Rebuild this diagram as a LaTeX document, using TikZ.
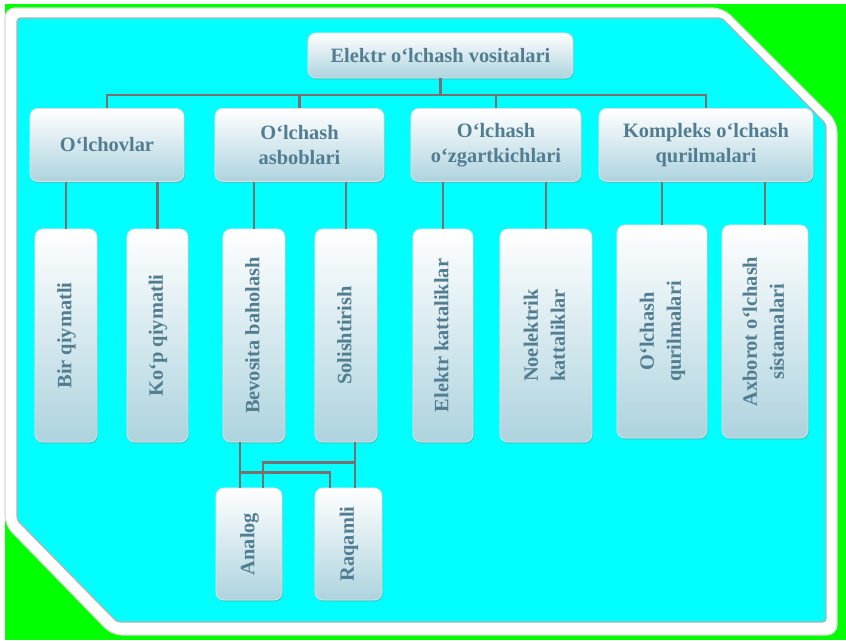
\documentclass[tikz,border=0pt]{standalone}
\usepackage{fontspec}
\setmainfont{Liberation Serif}
\usepackage{xcolor}
\usepackage{graphicx}
\usepackage{tikz}
\usetikzlibrary{shadows}

\definecolor{scrgreen}{HTML}{00FF00}
\definecolor{panelcyan}{HTML}{00FFFF}
\definecolor{boxbottom}{HTML}{ADD3DE}
\definecolor{boxtext}{HTML}{527D91}
\definecolor{wirecol}{HTML}{7A6E6E}

\newcommand{\vlabel}[1]{\rotatebox{90}{\renewcommand{\arraystretch}{1.1}\begin{tabular}{@{}c@{}}#1\end{tabular}}}

\begin{document}
\begin{tikzpicture}[x=0.025cm, y=-0.025cm,
    box/.style={rounded corners=0.2cm, draw=white!75!gray, line width=0.6pt,
      top color=white, bottom color=boxbottom, text=boxtext,
      font=\fontsize{14.5}{17.5}\selectfont\bfseries, align=center, inner sep=2pt,
      drop shadow={opacity=0.35, shadow xshift=0.7pt, shadow yshift=-1.2pt}},
    rootbox/.style={box, minimum width=6.625cm, minimum height=1.125cm},
    groupbox/.style={box, minimum height=1.825cm},
    leafbox/.style={box, minimum height=5.325cm},
    kindbox/.style={box, minimum height=2.8cm},
    wire/.style={draw=wirecol, line width=1.5pt}]

  \useasboundingbox (0,0) rectangle (846,640);
  \fill[white] (0,0) rectangle (846,640);
  \fill[scrgreen] (5,4) rectangle (846,640);
  \filldraw[fill=white, draw=gray!30, line width=0.8pt, rounded corners=0.25cm]
    (5,8) -- (723,8) -- (837,122) -- (837,635) -- (112,635) -- (5,525) -- cycle;
  \filldraw[fill=panelcyan, draw=gray!60, line width=0.8pt, rounded corners=0.08cm]
    (17,18) -- (722,18) -- (826,124) -- (826,622) -- (117,622) -- (17,520) -- cycle;

  \node[rootbox] (root) at (440.5,55.5) {Elektr o‘lchash vositalari};

  \foreach \n/\x/\w/\t in {olch/107/3.85/O‘lchovlar, asbob/299.5/4.225/O‘lchash\\asboblari,
      ozgar/496/4.25/O‘lchash\\o‘zgartkichlari, kompl/706/5.35/Kompleks o‘lchash\\qurilmalari} {
    \node[groupbox, minimum width=\w cm] (\n) at (\x,145) {\t};
  }

  \foreach \n/\x/\y/\w/\t in {bir/66/335.5/1.55/Bir qiymatli, kop/157.5/335.5/1.525/Ko‘p qiymatli,
      bev/254/335.5/1.55/Bevosita baholash, sol/346/335.5/1.55/Solishtirish,
      ekat/443/335.5/1.5/Elektr kattaliklar, nekat/546/335.5/2.3/Noelektrik\\kattaliklar,
      oqur/662/331.5/2.25/O‘lchash\\qurilmalari, axb/765/331.5/2.15/Axborot o‘lchash\\sistamalari} {
    \node[leafbox, minimum width=\w cm] (\n) at (\x,\y) {\vlabel{\t}};
  }

  \node[kindbox, minimum width=1.65cm] (analog) at (249,544) {\vlabel{Analog}};
  \node[kindbox, minimum width=1.675cm] (raq) at (348.5,544) {\vlabel{Raqamli}};

  \path (root.south) ++(0,17) coordinate (bus);
  \foreach \n in {olch,asbob,ozgar,kompl} {
    \draw[wire] (root.south) -- (bus) -| (\n.north);
  }

  \foreach \p/\c in {olch/bir, olch/kop, asbob/bev, asbob/sol, ozgar/ekat, ozgar/nekat, kompl/oqur, kompl/axb} {
    \draw[wire] (\c.north |- \p.south) -- (\c.north);
  }

  \path ([xshift=-0.35cm]bev.south) coordinate (bevtap)
        ([xshift=0.225cm]sol.south) coordinate (soltap)
        ([xshift=0.35cm]analog.north) coordinate (anain)
        ([xshift=-0.46cm]raq.north) coordinate (raqin);
  \draw[wire] (bevtap) -- (bevtap |- analog.north);
  \draw[wire] (soltap) -- (soltap |- raq.north);
  \draw[wire] (bevtap) -- ++(0,30) -| (raqin);
  \draw[wire] (soltap) -- ++(0,20) -| (anain);
\end{tikzpicture}
\end{document}
